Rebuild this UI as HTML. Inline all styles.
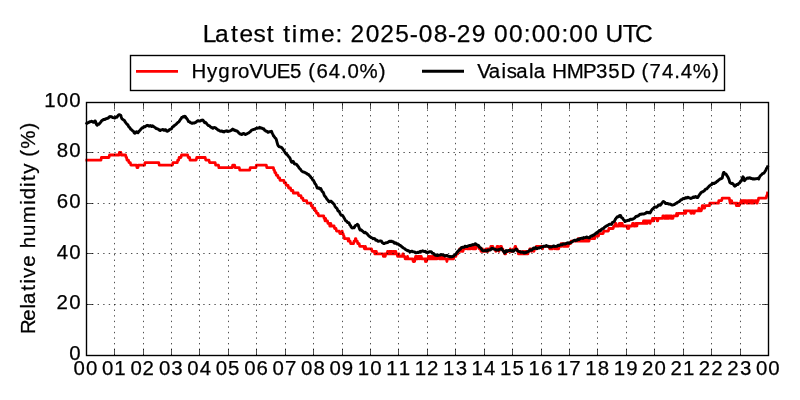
<!DOCTYPE html><html><head><meta charset="utf-8"><style>html,body{margin:0;padding:0;background:#fff;}svg{display:block}</style></head><body><svg width="800" height="400" viewBox="0 0 800 400" font-family='"Liberation Sans", sans-serif'><rect x="0" y="0" width="800" height="400" fill="#fff"/><path d="M86.8 160.1 101.0 160.1 101.4 157.5 109.0 157.5 109.5 155.0 119.0 155.0 119.4 152.5 120.9 152.5 121.3 155.0 125.6 155.0 126.1 157.5 126.6 157.5 127.0 160.1 128.4 160.1 128.9 162.6 130.3 162.6 130.8 165.1 136.5 165.1 137.0 167.7 137.9 167.7 138.4 165.1 144.6 165.1 145.0 162.6 158.8 162.6 159.2 165.1 172.5 165.1 173.0 162.6 177.3 162.6 177.7 160.1 178.7 160.1 179.1 157.5 181.0 157.5 181.5 155.0 187.7 155.0 188.2 157.5 189.6 157.5 190.0 160.1 196.2 160.1 196.7 157.5 205.2 157.5 205.7 160.1 209.0 160.1 209.5 162.6 215.2 162.6 215.6 165.1 218.5 165.1 218.9 167.7 232.2 167.7 232.7 165.1 234.6 165.1 235.1 167.7 239.3 167.7 239.8 170.2 249.7 170.2 250.2 167.7 255.9 167.7 256.4 165.1 266.3 165.1 266.8 167.7 273.4 167.7 273.9 170.2 274.4 170.2 274.9 172.7 275.8 172.7 276.3 175.3 277.7 175.3 278.2 177.8 279.6 177.8 280.1 180.4 283.9 180.4 284.3 182.9 285.8 182.9 286.2 185.4 288.1 185.4 288.6 188.0 290.5 188.0 291.0 190.5 292.9 190.5 293.3 193.0 298.1 193.0 298.6 195.6 300.9 195.6 301.4 198.1 302.8 198.1 303.3 200.6 306.6 200.6 307.1 203.2 310.9 203.2 311.3 205.7 312.3 205.7 312.8 208.2 314.7 208.2 315.1 210.8 316.1 210.8 316.6 213.3 318.0 213.3 318.5 215.8 323.7 215.8 324.1 218.4 324.6 218.4 325.1 220.9 325.1 220.9 325.6 218.4 325.6 218.4 326.0 220.9 327.5 220.9 327.9 223.4 329.4 223.4 329.8 226.0 330.3 226.0 330.8 223.4 330.8 223.4 331.2 226.0 334.1 226.0 334.6 228.5 336.0 228.5 336.5 231.1 339.3 231.1 339.8 233.6 341.7 233.6 342.1 231.1 342.1 231.1 342.6 233.6 343.1 233.6 343.6 236.1 344.0 236.1 344.5 238.7 347.8 238.7 348.3 241.2 348.3 241.2 348.8 238.7 348.8 238.7 349.3 241.2 350.2 241.2 350.7 243.7 353.5 243.7 354.0 241.2 354.9 241.2 355.4 238.7 355.9 238.7 356.4 241.2 357.3 241.2 357.8 243.7 359.2 243.7 359.7 246.3 363.9 246.3 364.4 248.8 364.9 248.8 365.4 246.3 365.4 246.3 365.8 248.8 371.5 248.8 372.0 251.3 374.4 251.3 374.8 253.9 374.8 253.9 375.3 251.3 376.3 251.3 376.7 253.9 382.9 253.9 383.4 256.4 384.3 256.4 384.8 253.9 384.8 253.9 385.3 256.4 385.3 256.4 385.7 253.9 387.2 253.9 387.6 251.3 387.6 251.3 388.1 253.9 388.6 253.9 389.1 251.3 389.1 251.3 389.5 253.9 389.5 253.9 390.0 251.3 390.0 251.3 390.5 253.9 390.5 253.9 391.0 251.3 391.0 251.3 391.4 253.9 391.4 253.9 391.9 251.3 391.9 251.3 392.4 253.9 392.8 253.9 393.3 251.3 393.3 251.3 393.8 253.9 393.8 253.9 394.3 251.3 394.3 251.3 394.7 253.9 395.2 253.9 395.7 251.3 395.7 251.3 396.2 253.9 397.1 253.9 397.6 256.4 398.1 256.4 398.5 253.9 399.0 253.9 399.5 256.4 402.3 256.4 402.8 253.9 403.3 253.9 403.7 256.4 404.7 256.4 405.2 258.9 407.1 258.9 407.5 256.4 407.5 256.4 408.0 258.9 412.7 258.9 413.2 261.5 413.7 261.5 414.2 258.9 414.2 258.9 414.6 261.5 414.6 261.5 415.1 258.9 415.1 258.9 415.6 256.4 416.1 256.4 416.5 258.9 416.5 258.9 417.0 256.4 417.0 256.4 417.5 258.9 418.0 258.9 418.4 256.4 419.4 256.4 419.9 258.9 419.9 258.9 420.3 256.4 421.3 256.4 421.8 258.9 425.1 258.9 425.5 261.5 425.5 261.5 426.0 258.9 426.0 258.9 426.5 261.5 426.5 261.5 427.0 258.9 427.9 258.9 428.4 256.4 428.4 256.4 428.9 258.9 429.3 258.9 429.8 256.4 430.3 256.4 430.8 258.9 431.7 258.9 432.2 256.4 432.2 256.4 432.6 258.9 432.6 258.9 433.1 256.4 433.1 256.4 433.6 258.9 434.1 258.9 434.5 256.4 434.5 256.4 435.0 258.9 436.0 258.9 436.4 256.4 436.4 256.4 436.9 258.9 436.9 258.9 437.4 256.4 438.8 256.4 439.3 258.9 439.8 258.9 440.2 256.4 440.7 256.4 441.2 258.9 441.2 258.9 441.7 256.4 441.7 256.4 442.1 258.9 442.6 258.9 443.1 256.4 443.5 256.4 444.0 258.9 446.4 258.9 446.9 261.5 446.9 261.5 447.3 258.9 452.5 258.9 453.0 256.4 453.0 256.4 453.5 258.9 453.5 258.9 454.0 256.4 455.9 256.4 456.3 253.9 457.8 253.9 458.2 251.3 459.2 251.3 459.7 248.8 459.7 248.8 460.1 251.3 460.6 251.3 461.1 248.8 461.1 248.8 461.6 251.3 462.0 251.3 462.5 248.8 462.5 248.8 463.0 251.3 463.0 251.3 463.4 248.8 465.3 248.8 465.8 246.3 466.3 246.3 466.8 248.8 468.7 248.8 469.1 246.3 469.1 246.3 469.6 248.8 470.6 248.8 471.0 246.3 472.0 246.3 472.5 248.8 473.9 248.8 474.3 246.3 474.3 246.3 474.8 248.8 474.8 248.8 475.3 246.3 475.3 246.3 475.8 248.8 475.8 248.8 476.2 246.3 478.6 246.3 479.1 248.8 480.5 248.8 481.0 251.3 481.0 251.3 481.5 248.8 481.5 248.8 481.9 251.3 481.9 251.3 482.4 248.8 482.4 248.8 482.9 251.3 485.7 251.3 486.2 248.8 486.2 248.8 486.7 251.3 487.1 251.3 487.6 248.8 487.6 248.8 488.1 251.3 488.1 251.3 488.6 248.8 490.5 248.8 490.9 246.3 490.9 246.3 491.4 248.8 491.4 248.8 491.9 246.3 492.8 246.3 493.3 248.8 495.2 248.8 495.7 251.3 496.1 251.3 496.6 248.8 496.6 248.8 497.1 246.3 498.0 246.3 498.5 248.8 498.5 248.8 499.0 251.3 499.0 251.3 499.5 248.8 499.9 248.8 500.4 246.3 501.4 246.3 501.8 248.8 502.8 248.8 503.2 251.3 504.2 251.3 504.7 253.9 504.7 253.9 505.1 251.3 505.1 251.3 505.6 253.9 505.6 253.9 506.1 251.3 509.9 251.3 510.4 248.8 510.4 248.8 510.8 251.3 513.2 251.3 513.7 248.8 514.6 248.8 515.1 246.3 515.6 246.3 516.0 248.8 517.0 248.8 517.5 251.3 517.9 251.3 518.4 253.9 519.8 253.9 520.3 251.3 520.3 251.3 520.8 253.9 522.7 253.9 523.2 251.3 523.2 251.3 523.6 253.9 524.6 253.9 525.0 251.3 525.0 251.3 525.5 253.9 526.0 253.9 526.5 251.3 526.5 251.3 526.9 253.9 527.9 253.9 528.4 251.3 529.3 251.3 529.8 248.8 530.7 248.8 531.2 251.3 531.7 251.3 532.2 248.8 533.1 248.8 533.6 251.3 534.0 251.3 534.5 248.8 535.9 248.8 536.4 246.3 536.4 246.3 536.9 248.8 536.9 248.8 537.4 246.3 542.1 246.3 542.6 248.8 542.6 248.8 543.1 246.3 549.2 246.3 549.7 248.8 549.7 248.8 550.2 246.3 550.2 246.3 550.6 248.8 551.6 248.8 552.1 246.3 552.1 246.3 552.5 248.8 552.5 248.8 553.0 246.3 554.4 246.3 554.9 248.8 554.9 248.8 555.4 246.3 555.8 246.3 556.3 248.8 556.3 248.8 556.8 246.3 557.3 246.3 557.7 248.8 557.7 248.8 558.2 246.3 558.2 246.3 558.7 248.8 558.7 248.8 559.2 246.3 560.6 246.3 561.1 243.7 561.1 243.7 561.5 246.3 561.5 246.3 562.0 243.7 563.0 243.7 563.4 246.3 563.4 246.3 563.9 243.7 563.9 243.7 564.4 246.3 565.3 246.3 565.8 243.7 566.3 243.7 566.7 246.3 567.2 246.3 567.7 243.7 567.7 243.7 568.2 246.3 568.2 246.3 568.6 243.7 570.5 243.7 571.0 241.2 577.6 241.2 578.1 238.7 578.1 238.7 578.6 241.2 578.6 241.2 579.1 238.7 580.0 238.7 580.5 241.2 581.4 241.2 581.9 238.7 581.9 238.7 582.4 241.2 582.4 241.2 582.9 238.7 583.3 238.7 583.8 241.2 584.3 241.2 584.7 238.7 585.2 238.7 585.7 241.2 585.7 241.2 586.2 238.7 586.2 238.7 586.6 241.2 587.6 241.2 588.1 238.7 588.1 238.7 588.5 241.2 589.0 241.2 589.5 238.7 593.3 238.7 593.8 236.1 593.8 236.1 594.2 238.7 594.7 238.7 595.2 236.1 598.5 236.1 599.0 233.6 603.2 233.6 603.7 231.1 608.4 231.1 608.9 228.5 613.2 228.5 613.7 226.0 615.1 226.0 615.5 223.4 616.0 223.4 616.5 226.0 618.9 226.0 619.3 223.4 620.3 223.4 620.8 226.0 620.8 226.0 621.2 223.4 621.2 223.4 621.7 226.0 621.7 226.0 622.2 223.4 622.2 223.4 622.7 226.0 626.9 226.0 627.4 228.5 627.4 228.5 627.9 226.0 628.3 226.0 628.8 228.5 628.8 228.5 629.3 226.0 632.1 226.0 632.6 223.4 633.6 223.4 634.0 226.0 635.4 226.0 635.9 223.4 636.4 223.4 636.9 226.0 636.9 226.0 637.3 223.4 643.0 223.4 643.5 220.9 643.5 220.9 644.0 223.4 644.0 223.4 644.5 220.9 644.5 220.9 644.9 223.4 644.9 223.4 645.4 220.9 645.4 220.9 645.9 223.4 645.9 223.4 646.3 220.9 646.8 220.9 647.3 223.4 647.3 223.4 647.8 220.9 649.7 220.9 650.1 223.4 650.1 223.4 650.6 220.9 652.0 220.9 652.5 218.4 653.0 218.4 653.5 220.9 653.5 220.9 653.9 218.4 656.8 218.4 657.2 220.9 657.7 220.9 658.2 218.4 662.5 218.4 662.9 215.8 663.9 215.8 664.4 218.4 664.8 218.4 665.3 215.8 665.8 215.8 666.2 218.4 666.2 218.4 666.7 215.8 666.7 215.8 667.2 218.4 667.2 218.4 667.7 215.8 668.1 215.8 668.6 218.4 668.6 218.4 669.1 215.8 670.5 215.8 671.0 218.4 671.0 218.4 671.5 215.8 671.5 215.8 671.9 218.4 672.9 218.4 673.4 215.8 676.2 215.8 676.7 213.3 676.7 213.3 677.1 215.8 677.6 215.8 678.1 213.3 684.3 213.3 684.7 210.8 685.2 210.8 685.7 213.3 685.7 213.3 686.1 210.8 690.4 210.8 690.9 213.3 691.4 213.3 691.8 210.8 693.3 210.8 693.7 213.3 694.2 213.3 694.7 210.8 698.5 210.8 698.9 208.2 698.9 208.2 699.4 210.8 701.3 210.8 701.8 208.2 701.8 208.2 702.3 205.7 702.3 205.7 702.7 208.2 702.7 208.2 703.2 205.7 703.2 205.7 703.7 208.2 704.6 208.2 705.1 205.7 709.4 205.7 709.8 203.2 718.4 203.2 718.8 200.6 721.7 200.6 722.2 198.1 729.3 198.1 729.7 200.6 729.7 200.6 730.2 203.2 730.2 203.2 730.7 200.6 731.6 200.6 732.1 203.2 735.9 203.2 736.4 205.7 736.4 205.7 736.8 203.2 737.3 203.2 737.8 205.7 739.2 205.7 739.7 203.2 740.6 203.2 741.1 200.6 741.1 200.6 741.6 203.2 741.6 203.2 742.1 200.6 742.5 200.6 743.0 203.2 743.0 203.2 743.5 200.6 743.5 200.6 744.0 203.2 744.0 203.2 744.4 200.6 746.3 200.6 746.8 203.2 747.7 203.2 748.2 200.6 748.7 200.6 749.2 203.2 749.2 203.2 749.6 200.6 751.1 200.6 751.5 203.2 751.5 203.2 752.0 200.6 752.0 200.6 752.5 203.2 752.5 203.2 753.0 200.6 753.4 200.6 753.9 203.2 754.4 203.2 754.9 200.6 756.8 200.6 757.2 203.2 757.2 203.2 757.7 200.6 758.2 200.6 758.6 198.1 766.2 198.1 766.7 195.6 767.2 195.6 767.5 193.0 767.5 193.0" fill="none" stroke="#f00" stroke-width="2.78" stroke-linejoin="round" stroke-linecap="square"/><path d="M86.8 123.4 87.2 123.1 87.7 122.9 88.2 122.6 88.6 122.5 89.1 122.3 89.6 121.6 90.1 121.6 90.5 121.8 91.0 121.3 91.5 121.2 92.0 121.5 92.4 121.6 92.9 122.0 93.4 122.4 93.9 122.3 94.3 121.8 94.8 121.0 95.3 121.0 95.8 122.3 96.2 123.8 96.7 124.7 97.2 125.2 97.6 124.5 98.1 124.0 98.6 124.0 99.1 124.2 99.5 123.7 100.0 123.0 100.5 122.5 101.0 121.8 101.4 121.0 101.9 120.5 102.4 120.4 102.9 120.0 103.3 119.6 103.8 119.4 104.3 119.3 104.8 119.5 105.2 119.2 105.7 118.7 106.2 118.9 106.7 118.7 107.1 118.3 107.6 118.3 108.1 118.3 108.5 117.9 109.0 117.2 109.5 116.7 110.0 116.5 110.4 116.9 110.9 116.8 111.4 116.6 111.9 116.9 112.3 117.4 112.8 117.6 113.3 117.6 113.8 117.6 114.2 117.9 114.7 118.1 115.2 117.5 115.7 117.0 116.1 117.3 116.6 117.4 117.1 117.0 117.5 116.2 118.0 115.6 118.5 115.1 119.0 114.7 119.4 114.7 119.9 114.8 120.4 115.0 120.9 115.6 121.3 117.2 121.8 118.5 122.3 119.1 122.8 119.4 123.2 119.7 123.7 120.1 124.2 120.3 124.7 120.9 125.1 121.8 125.6 122.5 126.1 123.1 126.6 123.7 127.0 124.1 127.5 124.6 128.0 125.1 128.4 126.1 128.9 126.9 129.4 127.2 129.9 127.7 130.3 128.6 130.8 129.2 131.3 129.5 131.8 130.0 132.2 130.4 132.7 130.8 133.2 131.0 133.7 131.7 134.1 132.7 134.6 133.2 135.1 133.2 135.6 132.7 136.0 132.0 136.5 131.7 137.0 131.8 137.5 132.6 137.9 132.8 138.4 132.1 138.9 131.5 139.3 131.0 139.8 130.5 140.3 130.0 140.8 129.2 141.2 128.8 141.7 128.4 142.2 127.8 142.7 127.6 143.1 127.7 143.6 127.1 144.1 126.5 144.6 126.7 145.0 126.8 145.5 126.4 146.0 126.1 146.5 125.8 146.9 125.5 147.4 125.4 147.9 125.3 148.3 125.6 148.8 126.1 149.3 126.2 149.8 125.7 150.2 125.5 150.7 125.7 151.2 126.1 151.7 126.5 152.1 126.2 152.6 125.7 153.1 126.2 153.6 126.6 154.0 126.8 154.5 127.2 155.0 127.5 155.5 127.8 155.9 128.4 156.4 128.6 156.9 128.6 157.4 128.9 157.8 129.1 158.3 129.2 158.8 129.5 159.2 129.9 159.7 130.4 160.2 130.5 160.7 130.1 161.1 129.9 161.6 129.9 162.1 129.8 162.6 129.5 163.0 129.5 163.5 129.8 164.0 130.4 164.5 130.4 164.9 129.9 165.4 129.7 165.9 129.9 166.4 130.5 166.8 131.2 167.3 131.3 167.8 131.0 168.2 130.9 168.7 130.5 169.2 129.9 169.7 129.5 170.1 129.3 170.6 129.1 171.1 129.0 171.6 128.7 172.0 127.9 172.5 127.0 173.0 126.7 173.5 126.5 173.9 125.8 174.4 125.5 174.9 125.2 175.4 124.7 175.8 124.5 176.3 124.1 176.8 123.5 177.3 123.0 177.7 122.6 178.2 122.2 178.7 121.9 179.1 121.6 179.6 120.8 180.1 119.8 180.6 119.3 181.0 118.9 181.5 117.8 182.0 117.1 182.5 117.1 182.9 116.9 183.4 116.6 183.9 117.0 184.4 116.9 184.8 116.2 185.3 116.5 185.8 117.4 186.3 118.1 186.7 118.5 187.2 119.1 187.7 119.9 188.2 121.0 188.6 121.6 189.1 121.6 189.6 121.6 190.0 122.4 190.5 122.6 191.0 122.8 191.5 123.1 191.9 123.4 192.4 123.4 192.9 123.0 193.4 122.9 193.8 123.1 194.3 123.1 194.8 122.7 195.3 122.5 195.7 122.4 196.2 122.1 196.7 121.5 197.2 120.9 197.6 120.9 198.1 120.6 198.6 120.9 199.0 121.2 199.5 121.0 200.0 121.0 200.5 121.0 200.9 120.6 201.4 120.2 201.9 120.3 202.4 120.3 202.8 120.1 203.3 120.6 203.8 121.3 204.3 122.3 204.7 122.7 205.2 122.3 205.7 122.6 206.2 123.1 206.6 123.5 207.1 124.3 207.6 124.8 208.1 125.2 208.5 125.6 209.0 125.6 209.5 125.8 209.9 126.2 210.4 126.8 210.9 127.3 211.4 127.4 211.8 127.5 212.3 128.0 212.8 128.3 213.3 128.1 213.7 127.6 214.2 127.5 214.7 127.6 215.2 127.6 215.6 127.9 216.1 128.5 216.6 128.9 217.1 129.1 217.5 129.6 218.0 130.0 218.5 130.0 218.9 130.3 219.4 130.8 219.9 131.1 220.4 131.2 220.8 131.3 221.3 131.1 221.8 130.9 222.3 131.4 222.7 131.7 223.2 131.4 223.7 131.6 224.2 131.9 224.6 131.5 225.1 131.2 225.6 131.1 226.1 131.0 226.5 130.8 227.0 130.9 227.5 131.5 228.0 131.3 228.4 131.1 228.9 131.1 229.4 131.2 229.8 131.0 230.3 130.9 230.8 130.7 231.3 130.3 231.7 130.0 232.2 129.5 232.7 129.1 233.2 129.5 233.6 130.0 234.1 129.9 234.6 130.0 235.1 130.6 235.5 130.8 236.0 130.8 236.5 130.8 237.0 131.1 237.4 131.5 237.9 131.7 238.4 132.4 238.9 133.1 239.3 133.3 239.8 133.7 240.3 134.1 240.7 134.0 241.2 134.4 241.7 134.5 242.2 134.1 242.6 133.9 243.1 133.6 243.6 133.4 244.1 133.6 244.5 134.0 245.0 134.4 245.5 134.5 246.0 134.2 246.4 134.0 246.9 133.8 247.4 133.5 247.9 133.2 248.3 133.0 248.8 132.8 249.3 132.4 249.7 132.1 250.2 131.8 250.7 131.3 251.2 130.6 251.6 130.2 252.1 130.0 252.6 129.8 253.1 129.6 253.5 129.4 254.0 129.3 254.5 129.3 255.0 129.1 255.4 128.7 255.9 128.4 256.4 128.3 256.9 128.4 257.3 128.3 257.8 128.0 258.3 128.0 258.8 128.1 259.2 127.7 259.7 127.3 260.2 127.7 260.6 128.1 261.1 128.1 261.6 128.0 262.1 128.3 262.5 128.7 263.0 128.7 263.5 128.6 264.0 129.1 264.4 130.0 264.9 130.4 265.4 130.6 265.9 131.1 266.3 131.3 266.8 131.2 267.3 131.5 267.8 132.3 268.2 132.4 268.7 132.0 269.2 131.6 269.6 131.7 270.1 131.9 270.6 131.7 271.1 131.4 271.5 131.3 272.0 132.5 272.5 133.6 273.0 134.6 273.4 135.7 273.9 136.3 274.4 136.9 274.9 137.6 275.3 138.1 275.8 138.4 276.3 139.5 276.8 141.3 277.2 142.8 277.7 144.6 278.2 145.8 278.7 146.2 279.1 146.6 279.6 146.8 280.1 146.9 280.5 147.0 281.0 147.1 281.5 147.5 282.0 147.9 282.4 148.5 282.9 149.1 283.4 149.8 283.9 150.6 284.3 151.3 284.8 152.1 285.3 152.9 285.8 153.5 286.2 154.0 286.7 154.2 287.2 154.7 287.7 155.3 288.1 155.9 288.6 156.5 289.1 157.2 289.6 157.5 290.0 158.2 290.5 159.6 291.0 160.9 291.4 161.9 291.9 162.3 292.4 161.7 292.9 161.3 293.3 161.5 293.8 162.5 294.3 163.8 294.8 164.1 295.2 163.8 295.7 164.0 296.2 164.3 296.7 164.6 297.1 165.2 297.6 165.8 298.1 166.4 298.6 167.0 299.0 167.8 299.5 168.5 300.0 168.8 300.4 169.2 300.9 170.0 301.4 170.7 301.9 171.1 302.3 171.4 302.8 171.7 303.3 172.0 303.8 172.1 304.2 172.3 304.7 172.3 305.2 172.7 305.7 173.1 306.1 173.1 306.6 173.3 307.1 173.8 307.6 174.4 308.0 174.3 308.5 174.4 309.0 175.1 309.5 175.7 309.9 176.0 310.4 176.6 310.9 177.4 311.3 177.8 311.8 178.2 312.3 179.2 312.8 180.1 313.2 180.2 313.7 180.8 314.2 182.0 314.7 183.0 315.1 183.8 315.6 184.3 316.1 185.1 316.6 186.4 317.0 187.6 317.5 188.1 318.0 188.2 318.5 188.0 318.9 187.7 319.4 188.2 319.9 189.1 320.3 188.9 320.8 188.6 321.3 189.6 321.8 190.9 322.2 191.6 322.7 191.9 323.2 192.4 323.7 193.5 324.1 194.9 324.6 196.0 325.1 196.5 325.6 196.9 326.0 197.6 326.5 198.4 327.0 199.2 327.5 199.7 327.9 200.1 328.4 200.9 328.9 201.8 329.4 201.8 329.8 201.5 330.3 201.3 330.8 201.1 331.2 201.3 331.7 201.9 332.2 202.2 332.7 202.7 333.1 203.3 333.6 203.9 334.1 204.2 334.6 205.1 335.0 206.3 335.5 207.0 336.0 207.7 336.5 208.0 336.9 208.3 337.4 209.4 337.9 210.8 338.4 211.3 338.8 211.1 339.3 211.6 339.8 212.8 340.3 213.9 340.7 214.6 341.2 215.2 341.7 215.4 342.1 215.2 342.6 215.5 343.1 216.3 343.6 217.1 344.0 217.8 344.5 218.6 345.0 219.6 345.5 220.5 345.9 220.9 346.4 221.0 346.9 221.6 347.4 222.2 347.8 222.6 348.3 222.6 348.8 222.6 349.3 223.4 349.7 224.7 350.2 225.2 350.7 225.9 351.1 226.8 351.6 227.5 352.1 228.0 352.6 227.9 353.0 227.7 353.5 227.8 354.0 227.9 354.5 227.2 354.9 226.2 355.4 225.6 355.9 225.3 356.4 225.1 356.8 224.8 357.3 224.3 357.8 224.5 358.3 225.2 358.7 226.5 359.2 228.1 359.7 229.4 360.2 230.0 360.6 229.8 361.1 229.8 361.6 230.3 362.0 230.8 362.5 231.1 363.0 231.5 363.5 231.9 363.9 232.5 364.4 232.8 364.9 232.4 365.4 232.3 365.8 232.8 366.3 233.2 366.8 233.6 367.3 234.1 367.7 234.5 368.2 235.2 368.7 235.7 369.2 236.0 369.6 236.5 370.1 236.9 370.6 237.1 371.0 237.5 371.5 237.7 372.0 237.8 372.5 238.2 372.9 238.8 373.4 238.7 373.9 238.5 374.4 238.6 374.8 238.6 375.3 239.3 375.8 240.2 376.3 240.4 376.7 240.2 377.2 240.4 377.7 241.0 378.2 241.4 378.6 241.3 379.1 241.2 379.6 241.0 380.1 241.0 380.5 241.1 381.0 241.0 381.5 241.2 381.9 241.8 382.4 242.8 382.9 243.1 383.4 243.2 383.8 243.6 384.3 243.6 384.8 243.3 385.3 243.0 385.7 242.8 386.2 242.9 386.7 242.8 387.2 242.5 387.6 242.5 388.1 242.2 388.6 241.7 389.1 241.4 389.5 241.2 390.0 241.2 390.5 241.5 391.0 241.2 391.4 241.1 391.9 241.4 392.4 241.7 392.8 241.7 393.3 241.7 393.8 242.4 394.3 243.1 394.7 243.3 395.2 243.0 395.7 242.8 396.2 243.0 396.6 243.6 397.1 244.0 397.6 244.1 398.1 244.0 398.5 244.1 399.0 244.7 399.5 245.3 400.0 245.4 400.4 245.5 400.9 246.0 401.4 246.4 401.8 246.6 402.3 247.2 402.8 247.6 403.3 247.9 403.7 248.2 404.2 248.3 404.7 248.7 405.2 249.2 405.6 249.7 406.1 249.9 406.6 250.0 407.1 250.5 407.5 250.7 408.0 250.4 408.5 250.7 409.0 251.0 409.4 251.4 409.9 251.9 410.4 251.9 410.9 251.6 411.3 251.3 411.8 251.1 412.3 251.4 412.7 251.8 413.2 251.7 413.7 251.8 414.2 251.9 414.6 251.9 415.1 252.4 415.6 252.8 416.1 252.7 416.5 252.7 417.0 252.5 417.5 252.3 418.0 252.6 418.4 252.4 418.9 252.1 419.4 252.2 419.9 251.5 420.3 251.3 420.8 251.5 421.3 251.5 421.8 251.3 422.2 251.0 422.7 250.8 423.2 251.0 423.6 251.3 424.1 251.6 424.6 251.4 425.1 251.3 425.5 251.8 426.0 252.2 426.5 251.9 427.0 252.1 427.4 252.5 427.9 252.5 428.4 252.4 428.9 252.2 429.3 251.7 429.8 251.6 430.3 251.7 430.8 251.7 431.2 251.6 431.7 252.2 432.2 253.0 432.6 253.4 433.1 253.4 433.6 253.4 434.1 254.0 434.5 254.6 435.0 255.0 435.5 255.3 436.0 255.1 436.4 254.9 436.9 255.5 437.4 255.6 437.9 255.5 438.3 255.3 438.8 255.1 439.3 255.2 439.8 255.1 440.2 255.0 440.7 254.6 441.2 254.4 441.7 254.7 442.1 254.9 442.6 255.0 443.1 255.0 443.5 254.9 444.0 255.2 444.5 255.8 445.0 256.1 445.4 255.9 445.9 255.6 446.4 255.4 446.9 255.4 447.3 255.6 447.8 255.9 448.3 256.2 448.8 256.2 449.2 256.5 449.7 256.8 450.2 256.6 450.7 256.5 451.1 256.8 451.6 256.8 452.1 256.6 452.5 256.4 453.0 256.2 453.5 256.3 454.0 255.7 454.4 255.1 454.9 254.9 455.4 254.7 455.9 254.2 456.3 253.4 456.8 252.6 457.3 252.1 457.8 251.5 458.2 250.9 458.7 250.7 459.2 250.0 459.7 249.4 460.1 249.5 460.6 249.0 461.1 247.8 461.6 247.4 462.0 247.5 462.5 247.4 463.0 247.1 463.4 247.2 463.9 247.4 464.4 247.0 464.9 246.3 465.3 246.1 465.8 246.5 466.3 246.6 466.8 246.5 467.2 246.5 467.7 246.2 468.2 245.8 468.7 245.7 469.1 245.6 469.6 245.4 470.1 245.4 470.6 245.6 471.0 245.3 471.5 244.9 472.0 245.0 472.5 244.7 472.9 244.5 473.4 244.7 473.9 244.7 474.3 244.4 474.8 244.1 475.3 243.7 475.8 243.8 476.2 244.4 476.7 244.7 477.2 245.0 477.7 245.3 478.1 245.3 478.6 245.6 479.1 246.6 479.6 247.3 480.0 247.5 480.5 247.8 481.0 248.4 481.5 249.1 481.9 249.8 482.4 250.5 482.9 250.8 483.3 250.9 483.8 250.9 484.3 250.7 484.8 250.5 485.2 250.5 485.7 250.6 486.2 250.9 486.7 251.1 487.1 251.1 487.6 250.4 488.1 249.9 488.6 250.0 489.0 250.0 489.5 249.9 490.0 250.1 490.5 249.9 490.9 249.3 491.4 248.6 491.9 248.2 492.4 248.5 492.8 248.8 493.3 248.6 493.8 248.9 494.2 249.2 494.7 249.3 495.2 249.4 495.7 249.5 496.1 249.9 496.6 250.1 497.1 250.1 497.6 250.0 498.0 250.2 498.5 249.9 499.0 249.4 499.5 249.3 499.9 249.4 500.4 249.4 500.9 248.8 501.4 248.6 501.8 249.2 502.3 249.9 502.8 250.3 503.2 250.8 503.7 251.5 504.2 252.3 504.7 253.1 505.1 252.4 505.6 251.3 506.1 250.6 506.6 250.9 507.0 251.5 507.5 251.1 508.0 250.5 508.5 250.5 508.9 250.6 509.4 250.5 509.9 250.4 510.4 250.3 510.8 250.4 511.3 251.0 511.8 251.2 512.3 250.7 512.7 250.6 513.2 251.2 513.7 251.2 514.1 250.6 514.6 250.2 515.1 250.0 515.6 249.6 516.0 248.9 516.5 249.2 517.0 250.2 517.5 250.7 517.9 250.9 518.4 251.2 518.9 251.5 519.4 251.7 519.8 251.8 520.3 251.8 520.8 251.9 521.3 252.1 521.7 251.9 522.2 251.9 522.7 252.3 523.2 252.3 523.6 252.7 524.1 253.0 524.6 252.7 525.0 252.5 525.5 252.7 526.0 252.2 526.5 251.9 526.9 252.1 527.4 251.9 527.9 251.6 528.4 251.4 528.8 251.0 529.3 250.7 529.8 250.1 530.3 249.7 530.7 250.0 531.2 250.4 531.7 250.2 532.2 249.6 532.6 249.2 533.1 248.6 533.6 248.0 534.0 248.2 534.5 248.5 535.0 248.1 535.5 247.5 535.9 247.7 536.4 248.4 536.9 248.6 537.4 248.5 537.8 248.3 538.3 248.0 538.8 248.0 539.3 248.1 539.7 247.8 540.2 247.4 540.7 247.5 541.2 247.4 541.6 246.9 542.1 246.8 542.6 246.9 543.1 246.8 543.5 246.4 544.0 246.2 544.5 246.3 544.9 246.3 545.4 246.3 545.9 245.9 546.4 245.5 546.8 245.7 547.3 246.2 547.8 246.1 548.3 246.1 548.7 246.7 549.2 247.1 549.7 246.7 550.2 246.6 550.6 247.0 551.1 247.1 551.6 246.9 552.1 246.8 552.5 246.6 553.0 246.4 553.5 246.0 553.9 245.9 554.4 246.4 554.9 246.5 555.4 246.4 555.8 246.4 556.3 246.3 556.8 246.3 557.3 246.1 557.7 245.5 558.2 245.2 558.7 245.4 559.2 245.6 559.6 245.3 560.1 244.8 560.6 244.7 561.1 244.9 561.5 244.9 562.0 244.9 562.5 244.4 563.0 243.9 563.4 244.0 563.9 244.0 564.4 243.9 564.8 244.1 565.3 244.0 565.8 243.7 566.3 243.6 566.7 243.4 567.2 242.9 567.7 242.8 568.2 242.8 568.6 243.0 569.1 243.4 569.6 243.0 570.1 242.5 570.5 242.6 571.0 242.6 571.5 242.3 572.0 242.0 572.4 241.6 572.9 241.2 573.4 240.8 573.9 240.5 574.3 240.3 574.8 240.1 575.3 240.3 575.7 240.7 576.2 240.3 576.7 240.0 577.2 240.2 577.6 239.9 578.1 239.1 578.6 239.1 579.1 239.5 579.5 239.2 580.0 238.8 580.5 238.4 581.0 238.4 581.4 238.4 581.9 238.1 582.4 238.2 582.9 238.4 583.3 237.8 583.8 237.5 584.3 237.7 584.7 237.7 585.2 237.6 585.7 237.5 586.2 237.1 586.6 237.0 587.1 237.1 587.6 237.2 588.1 237.5 588.5 237.8 589.0 237.9 589.5 237.8 590.0 237.0 590.4 236.4 590.9 236.1 591.4 236.1 591.9 236.2 592.3 235.6 592.8 235.1 593.3 235.3 593.8 235.3 594.2 234.6 594.7 234.2 595.2 234.2 595.6 233.4 596.1 233.0 596.6 233.4 597.1 233.3 597.5 232.3 598.0 231.7 598.5 231.6 599.0 231.0 599.4 230.4 599.9 230.4 600.4 230.8 600.9 230.4 601.3 229.4 601.8 229.1 602.3 228.9 602.8 228.6 603.2 228.5 603.7 228.4 604.2 227.7 604.6 227.1 605.1 226.9 605.6 226.5 606.1 226.2 606.5 225.8 607.0 225.6 607.5 225.6 608.0 225.3 608.4 225.0 608.9 224.5 609.4 224.2 609.9 224.2 610.3 224.3 610.8 224.3 611.3 224.5 611.8 224.0 612.2 222.9 612.7 222.2 613.2 222.2 613.7 221.7 614.1 221.5 614.6 221.0 615.1 219.7 615.5 219.0 616.0 218.4 616.5 217.7 617.0 217.2 617.4 216.6 617.9 216.7 618.4 216.9 618.9 216.5 619.3 215.7 619.8 215.4 620.3 215.4 620.8 215.9 621.2 217.0 621.7 217.9 622.2 217.9 622.7 218.2 623.1 219.0 623.6 219.8 624.1 220.2 624.6 220.8 625.0 221.6 625.5 221.3 626.0 220.6 626.4 220.6 626.9 220.8 627.4 220.5 627.9 220.3 628.3 220.3 628.8 220.5 629.3 220.2 629.8 219.6 630.2 219.4 630.7 219.2 631.2 219.3 631.7 219.5 632.1 219.2 632.6 219.0 633.1 219.0 633.6 218.7 634.0 218.4 634.5 218.1 635.0 217.6 635.4 217.1 635.9 216.6 636.4 216.3 636.9 216.2 637.3 216.4 637.8 216.1 638.3 215.7 638.8 215.6 639.2 215.1 639.7 214.5 640.2 214.1 640.7 214.1 641.1 214.3 641.6 214.1 642.1 213.9 642.6 214.1 643.0 213.9 643.5 213.9 644.0 214.0 644.5 213.8 644.9 213.3 645.4 213.2 645.9 213.2 646.3 212.6 646.8 212.3 647.3 212.3 647.8 212.5 648.2 212.8 648.7 212.6 649.2 212.3 649.7 212.6 650.1 212.9 650.6 212.2 651.1 211.1 651.6 210.1 652.0 209.6 652.5 209.1 653.0 208.8 653.5 208.3 653.9 207.7 654.4 207.2 654.9 207.1 655.3 207.0 655.8 207.1 656.3 207.3 656.8 207.0 657.2 206.6 657.7 206.2 658.2 205.4 658.7 204.9 659.1 205.1 659.6 205.2 660.1 205.2 660.6 204.9 661.0 204.4 661.5 203.7 662.0 203.0 662.5 202.3 662.9 201.7 663.4 201.4 663.9 201.7 664.4 202.0 664.8 202.2 665.3 203.1 665.8 203.6 666.2 203.5 666.7 203.5 667.2 203.5 667.7 203.4 668.1 203.7 668.6 204.1 669.1 204.2 669.6 204.1 670.0 204.0 670.5 204.3 671.0 204.7 671.5 204.9 671.9 205.0 672.4 205.0 672.9 205.0 673.4 204.8 673.8 204.6 674.3 204.6 674.8 204.2 675.3 203.8 675.7 203.5 676.2 203.2 676.7 203.1 677.1 202.5 677.6 202.3 678.1 202.2 678.6 201.7 679.0 201.6 679.5 201.5 680.0 200.8 680.5 200.3 680.9 199.9 681.4 199.7 681.9 199.7 682.4 199.3 682.8 198.7 683.3 198.5 683.8 198.6 684.3 198.7 684.7 198.5 685.2 197.9 685.7 197.6 686.1 197.7 686.6 198.1 687.1 197.9 687.6 197.3 688.0 197.2 688.5 197.5 689.0 197.8 689.5 198.0 689.9 198.1 690.4 198.2 690.9 198.5 691.4 198.3 691.8 198.0 692.3 197.7 692.8 197.2 693.3 196.9 693.7 197.1 694.2 197.5 694.7 197.3 695.2 196.7 695.6 196.4 696.1 196.8 696.6 197.2 697.0 197.5 697.5 197.6 698.0 197.1 698.5 196.2 698.9 195.5 699.4 194.8 699.9 194.1 700.4 193.6 700.8 192.9 701.3 192.4 701.8 192.1 702.3 191.9 702.7 191.8 703.2 191.4 703.7 191.2 704.2 191.0 704.6 190.4 705.1 189.6 705.6 189.2 706.1 189.0 706.5 189.0 707.0 188.8 707.5 188.0 707.9 187.4 708.4 187.1 708.9 186.4 709.4 186.0 709.8 185.7 710.3 185.2 710.8 184.7 711.3 184.6 711.7 184.5 712.2 183.9 712.7 183.3 713.2 183.3 713.6 183.5 714.1 183.5 714.6 183.1 715.1 182.8 715.5 182.8 716.0 182.5 716.5 181.8 716.9 181.3 717.4 181.3 717.9 181.0 718.4 180.3 718.8 179.8 719.3 179.8 719.8 179.3 720.3 178.8 720.7 178.8 721.2 178.6 721.7 178.4 722.2 178.1 722.6 176.3 723.1 173.8 723.6 172.4 724.1 172.5 724.5 173.4 725.0 174.0 725.5 174.0 726.0 174.0 726.4 174.7 726.9 175.6 727.4 176.3 727.8 176.9 728.3 177.9 728.8 179.0 729.3 180.5 729.7 182.2 730.2 182.8 730.7 183.0 731.2 183.5 731.6 183.3 732.1 183.2 732.6 183.5 733.1 184.0 733.5 184.5 734.0 185.4 734.5 185.9 735.0 186.2 735.4 185.9 735.9 185.5 736.4 184.8 736.8 184.4 737.3 184.4 737.8 184.5 738.3 184.1 738.7 183.3 739.2 183.1 739.7 183.0 740.2 181.8 740.6 181.1 741.1 181.2 741.6 180.3 742.1 178.9 742.5 177.7 743.0 176.7 743.5 177.5 744.0 179.1 744.4 180.7 744.9 180.1 745.4 179.4 745.9 179.2 746.3 179.0 746.8 178.4 747.3 178.2 747.7 177.9 748.2 177.9 748.7 178.2 749.2 177.9 749.6 177.7 750.1 177.8 750.6 178.1 751.1 178.5 751.5 178.5 752.0 178.5 752.5 179.0 753.0 179.0 753.4 178.6 753.9 178.7 754.4 179.1 754.9 179.0 755.3 178.8 755.8 178.9 756.3 178.7 756.8 178.6 757.2 178.5 757.7 178.3 758.2 178.8 758.6 179.0 759.1 178.0 759.6 176.9 760.1 176.1 760.5 175.6 761.0 175.2 761.5 174.7 762.0 174.1 762.4 173.7 762.9 173.4 763.4 173.3 763.9 173.1 764.3 172.6 764.8 171.8 765.3 171.0 765.8 170.2 766.2 169.2 766.7 168.2 767.2 167.5 767.5 166.8" fill="none" stroke="#000" stroke-width="2.9" stroke-linejoin="round" stroke-linecap="square"/><path d="M114.50 355.50V102.50M143.50 355.50V102.50M171.50 355.50V102.50M199.50 355.50V102.50M228.50 355.50V102.50M256.50 355.50V102.50M285.50 355.50V102.50M313.50 355.50V102.50M342.50 355.50V102.50M370.50 355.50V102.50M398.50 355.50V102.50M427.50 355.50V102.50M455.50 355.50V102.50M484.50 355.50V102.50M512.50 355.50V102.50M541.50 355.50V102.50M569.50 355.50V102.50M597.50 355.50V102.50M626.50 355.50V102.50M654.50 355.50V102.50M683.50 355.50V102.50M711.50 355.50V102.50M740.50 355.50V102.50M86.50 304.50H768.50M86.50 253.50H768.50M86.50 203.50H768.50M86.50 152.50H768.50" stroke="#000" stroke-width="0.69" stroke-dasharray="1.39 4.17" fill="none"/><path d="M114.50 355.50v-6.5M114.50 102.50v6.5M143.50 355.50v-6.5M143.50 102.50v6.5M171.50 355.50v-6.5M171.50 102.50v6.5M199.50 355.50v-6.5M199.50 102.50v6.5M228.50 355.50v-6.5M228.50 102.50v6.5M256.50 355.50v-6.5M256.50 102.50v6.5M285.50 355.50v-6.5M285.50 102.50v6.5M313.50 355.50v-6.5M313.50 102.50v6.5M342.50 355.50v-6.5M342.50 102.50v6.5M370.50 355.50v-6.5M370.50 102.50v6.5M398.50 355.50v-6.5M398.50 102.50v6.5M427.50 355.50v-6.5M427.50 102.50v6.5M455.50 355.50v-6.5M455.50 102.50v6.5M484.50 355.50v-6.5M484.50 102.50v6.5M512.50 355.50v-6.5M512.50 102.50v6.5M541.50 355.50v-6.5M541.50 102.50v6.5M569.50 355.50v-6.5M569.50 102.50v6.5M597.50 355.50v-6.5M597.50 102.50v6.5M626.50 355.50v-6.5M626.50 102.50v6.5M654.50 355.50v-6.5M654.50 102.50v6.5M683.50 355.50v-6.5M683.50 102.50v6.5M711.50 355.50v-6.5M711.50 102.50v6.5M740.50 355.50v-6.5M740.50 102.50v6.5M86.50 304.50h6.5M768.50 304.50h-6.5M86.50 253.50h6.5M768.50 253.50h-6.5M86.50 203.50h6.5M768.50 203.50h-6.5M86.50 152.50h6.5M768.50 152.50h-6.5" stroke="#000" stroke-width="0.69" fill="none"/><rect x="86.5" y="102.5" width="682.00" height="253.00" fill="none" stroke="#000" stroke-width="1.39"/><g style="will-change:transform" stroke="#000" stroke-width="0.25"><text x="202.63 214.94 230.92 239.38 253.47 266.64 274.70 283.24 291.82 299.01 320.97 335.47 342.81 350.54 365.72 380.28 395.37 409.86 418.77 433.64 448.04 456.64 471.75 486.09 494.12 508.99 523.79 531.74 546.61 561.41 569.36 584.23 598.50 605.62 622.69 635.11" y="42.0" font-size="24.50">Latest time: 2025-08-29 00:00:00 UTC</text></g><rect x="130.5" y="55.5" width="594" height="35" fill="#fff" stroke="#000" stroke-width="1.39"/><path d="M136 71.4H178" stroke="#f00" stroke-width="2.78"/><path d="M422 71.25H464" stroke="#000" stroke-width="2.78"/><g style="will-change:transform" stroke="#000" stroke-width="0.25"><text x="191.53 206.91 218.18 231.15 238.10 249.59 262.84 276.63 290.12 302.09 308.17 316.40 328.81 340.96 347.41 359.48 378.76" y="78.2" font-size="20.42">HygroVUE5 (64.0%)</text><text x="477.19 488.74 501.58 506.65 516.26 529.10 533.63 546.03 552.16 566.78 583.10 596.01 608.31 620.44 635.31 641.38 649.58 662.02 674.17 680.63 692.69 711.97" y="78.2" font-size="20.42">Vaisala HMP35D (74.4%)</text><text x="69.23" y="359.75" font-size="20.42">0</text><text x="56.57 69.23" y="309.15" font-size="20.42">20</text><text x="56.82 69.23" y="258.55" font-size="20.42">40</text><text x="56.83 69.23" y="207.95000000000002" font-size="20.42">60</text><text x="56.83 69.23" y="157.35000000000002" font-size="20.42">80</text><text x="44.32 56.83 69.23" y="106.75000000000003" font-size="20.42">100</text><text x="73.61 86.02" y="374.7" font-size="20.42">00</text><text x="102.04 114.35" y="374.7" font-size="20.42">01</text><text x="130.47 142.62" y="374.7" font-size="20.42">02</text><text x="158.90 171.34" y="374.7" font-size="20.42">03</text><text x="187.33 199.74" y="374.7" font-size="20.42">04</text><text x="215.76 228.10" y="374.7" font-size="20.42">05</text><text x="244.19 256.60" y="374.7" font-size="20.42">06</text><text x="272.62 284.99" y="374.7" font-size="20.42">07</text><text x="301.05 313.46" y="374.7" font-size="20.42">08</text><text x="329.48 341.83" y="374.7" font-size="20.42">09</text><text x="357.81 370.32" y="374.7" font-size="20.42">10</text><text x="386.24 398.65" y="374.7" font-size="20.42">11</text><text x="414.67 426.92" y="374.7" font-size="20.42">12</text><text x="443.10 455.64" y="374.7" font-size="20.42">13</text><text x="471.53 484.04" y="374.7" font-size="20.42">14</text><text x="499.96 512.40" y="374.7" font-size="20.42">15</text><text x="528.39 540.90" y="374.7" font-size="20.42">16</text><text x="556.82 569.29" y="374.7" font-size="20.42">17</text><text x="585.25 597.76" y="374.7" font-size="20.42">18</text><text x="613.68 626.13" y="374.7" font-size="20.42">19</text><text x="641.96 654.62" y="374.7" font-size="20.42">20</text><text x="670.39 682.95" y="374.7" font-size="20.42">21</text><text x="698.82 711.22" y="374.7" font-size="20.42">22</text><text x="727.25 739.94" y="374.7" font-size="20.42">23</text><text x="755.93 768.34" y="374.7" font-size="20.42">00</text><text x="-0.31 13.02 25.10 29.64 42.96 50.13 55.75 66.98 78.64 85.33 97.64 110.57 128.99 134.34 146.79 152.69 160.05 170.95 177.03 184.92 204.19" y="0" font-size="20.42" transform="translate(34.8,333.7) rotate(-90)">Relative humidity (%)</text></g></svg></body></html>
